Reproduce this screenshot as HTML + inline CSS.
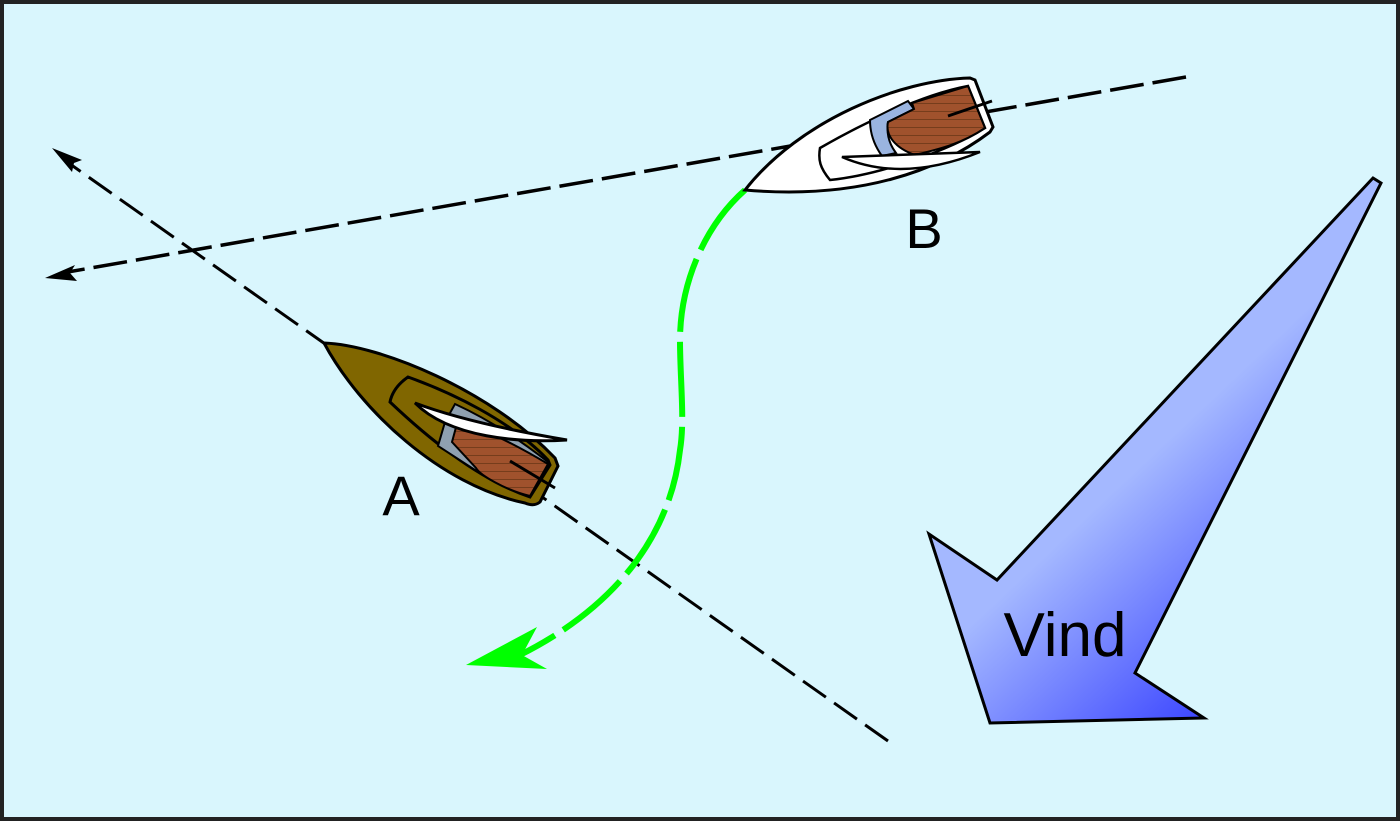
<!DOCTYPE html>
<html><head><style>html,body{margin:0;padding:0;background:#fff}svg{display:block}</style></head>
<body>
<svg width="1400" height="821" viewBox="0 0 1400 821" xmlns="http://www.w3.org/2000/svg">
<defs>
<linearGradient id="g" x1="1040" y1="560" x2="1200" y2="730" gradientUnits="userSpaceOnUse">
<stop offset="0" stop-color="#a4b8ff"/><stop offset="1" stop-color="#3a44ff"/></linearGradient>
<pattern id="w" width="10" height="8" patternUnits="userSpaceOnUse"><rect width="10" height="8" fill="#a0522d"/><line x1="0" y1="7.5" x2="10" y2="7.5" stroke="#5a2e10" stroke-width="0.6"/></pattern>
</defs>
<rect x="2" y="2" width="1396" height="817" fill="#d9f6fd" stroke="#222" stroke-width="4"/>
<line x1="888" y1="741" x2="70" y2="164" stroke="#000" stroke-width="3" stroke-dasharray="28,10"/>
<path d="M52,148 L82,160 L74,163 L72,172 Z" fill="#000"/>
<line x1="1186" y1="77" x2="62" y2="273" stroke="#000" stroke-width="3.5" stroke-dasharray="34,9"/>
<path d="M45,278 L75,265 L70,273 L77,281 Z" fill="#000"/>
<path d="M745,190 C700,230 680,290 680,340 C680,380 685,420 680,450 C670,540 610,610 520,655" fill="none" stroke="#00ff00" stroke-width="6" stroke-dasharray="75,10"/>
<path d="M466,665 L537,627 L522,655 L547,669 Z" fill="#00ff00"/>
<path d="M324,343 C380,345 490,390 555,458 L558,466 L540,502 C535,506 530,505 525,503 C440,485 360,410 324,343 Z" fill="#806600" stroke="#000" stroke-width="3"/>
<path d="M408,377 C450,392 510,420 548,460 L550,465 L530,497 C480,480 430,440 390,402 C392,392 398,384 408,377 Z" fill="#806600" stroke="#000" stroke-width="3"/>
<path d="M455,404 C490,420 520,440 548,462 L530,496 L475,470 L438,446 L445,422 Z" fill="#8fa0b0" stroke="#000" stroke-width="2"/>
<path d="M458,420 C500,436 528,452 548,464 L530,496 C505,490 480,475 476,468 L452,442 Z" fill="url(#w)" stroke="#000" stroke-width="2"/>
<path d="M415,403 C460,420 520,432 567,440 C520,443 450,438 415,403 Z" fill="#fff" stroke="#000" stroke-width="3"/>
<line x1="510" y1="461" x2="555" y2="488" stroke="#000" stroke-width="3"/>
<path d="M745,190 C800,120 900,80 970,78 L975,80 L993,127 L990,132 C940,170 860,200 745,190 Z" fill="#fff" stroke="#000" stroke-width="3"/>
<path d="M820,148 C860,125 920,95 968,86 L985,128 C950,150 880,175 830,180 C820,168 818,160 820,148 Z" fill="#fff" stroke="#000" stroke-width="2.5"/>
<path d="M870,120 L908,101 L914,109 L888,122 C886,135 890,145 896,153 L882,156 C874,145 870,132 870,120 Z" fill="#9ab4e0" stroke="#000" stroke-width="2"/>
<path d="M912,103 L968,86 L985,128 C960,145 935,150 915,155 C895,148 885,135 888,122 L914,109 Z" fill="url(#w)" stroke="#000" stroke-width="2"/>
<path d="M842,157 L980,152 C940,168 890,178 842,157 Z" fill="#fff" stroke="#000" stroke-width="2.5"/>
<line x1="948" y1="116" x2="992" y2="101" stroke="#000" stroke-width="3"/>
<polygon points="1373,178 1381,183 1135,673 1204,718 990,723 929,534 997,580" fill="url(#g)" stroke="#000" stroke-width="3"/>
<text x="1065" y="656" font-family="Liberation Sans, sans-serif" font-size="62" text-anchor="middle" fill="#000">Vind</text>
<text x="401" y="515" font-family="Liberation Sans, sans-serif" font-size="56" text-anchor="middle" fill="#000">A</text>
<text x="924" y="248" font-family="Liberation Sans, sans-serif" font-size="56" text-anchor="middle" fill="#000">B</text>
</svg>
</body></html>
